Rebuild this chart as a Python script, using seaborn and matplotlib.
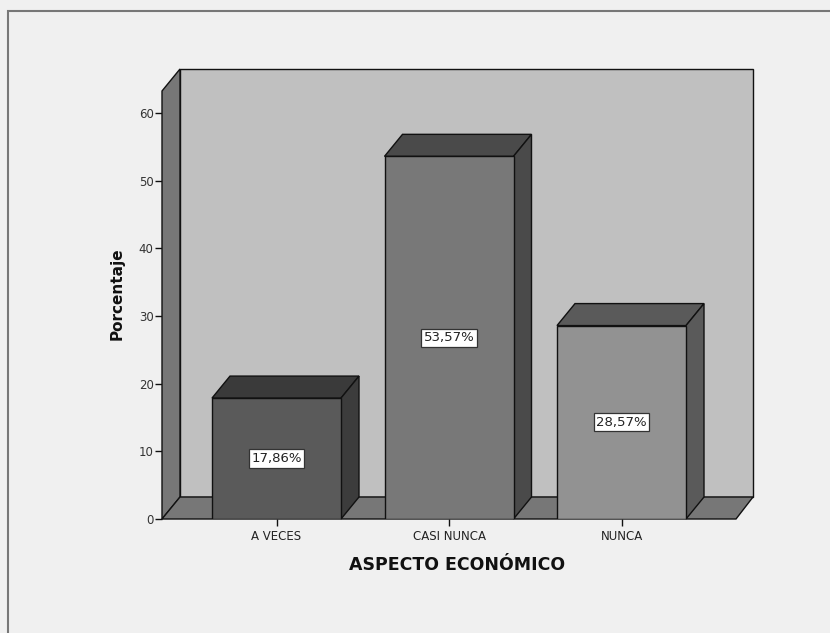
import numpy as np
import pandas as pd
import matplotlib
matplotlib.use('Agg')
import matplotlib.pyplot as plt
from matplotlib.patches import Polygon, Rectangle
import seaborn as sns

# Datos del gráfico
categorias = ['A VECES', 'CASI NUNCA', 'NUNCA']
porcentajes = [17.86, 53.57, 28.57]
etiquetas = ['17,86%', '53,57%', '28,57%']
ticks_y = [0, 10, 20, 30, 40, 50, 60]

colores_frente = ['#5a5a5a', '#787878', '#929292']
colores_tapa = ['#3a3a3a', '#4a4a4a', '#5a5a5a']
colores_lado = ['#3c3c3c', '#4a4a4a', '#5a5a5a']

sns.set_style('white')
plt.rcParams['font.family'] = ['DejaVu Sans']

df = pd.DataFrame({'Categoria': categorias, 'Porcentaje': porcentajes})

fig = plt.figure(figsize=(8.3, 6.33), dpi=100)
fig.patch.set_facecolor('#f0f0f0')

W, H = 830, 633
# ejes en píxeles: de x=162 a 753, de y=519 (cero) a 69
ax = fig.add_axes([162 / W, (H - 519) / H, (753 - 162) / W, (519 - 69) / H])
ax.set_facecolor('none')

px_y = 6.77      # píxeles por unidad en y
px_x = 172.5     # píxeles por categoría
x_ini = (162 - 276.5) / px_x
x_fin = (753 - 276.5) / px_x
y_fin = (519 - 69) / px_y
dx = 18 / px_x
dy = 22 / px_y
x_frente_der = (736 - 276.5) / px_x

sns.barplot(data=df, x='Categoria', y='Porcentaje', hue='Categoria',
            palette=colores_frente, width=129 / px_x, edgecolor='#111111',
            linewidth=1.0, saturation=1, legend=False, ax=ax, zorder=2)

ax.set_xlim(x_ini, x_fin)
ax.set_ylim(0, y_fin)

borde = dict(edgecolor='#111111', linewidth=1.0, clip_on=False)
# pared del fondo
ax.add_patch(Polygon([(x_ini + dx, dy), (x_fin, dy), (x_fin, y_fin), (x_ini + dx, y_fin)],
                     facecolor='#c0c0c0', zorder=0.5, **borde))
# pared izquierda
ax.add_patch(Polygon([(x_ini, 0), (x_ini + dx, dy), (x_ini + dx, y_fin), (x_ini, y_fin - dy)],
                     facecolor='#777777', zorder=0.6, **borde))
# piso
ax.add_patch(Polygon([(x_ini, 0), (x_frente_der, 0), (x_fin, dy), (x_ini + dx, dy)],
                     facecolor='#777777', zorder=0.6, **borde))

barras = [p for c in ax.containers for p in c]
for i, barra in enumerate(barras):
    x0 = barra.get_x()
    x1 = x0 + barra.get_width()
    h = barra.get_height()
    ax.add_patch(Polygon([(x0, h), (x1, h), (x1 + dx, h + dy), (x0 + dx, h + dy)],
                         facecolor=colores_tapa[i], zorder=1.9, **borde))
    ax.add_patch(Polygon([(x1, 0), (x1 + dx, dy), (x1 + dx, h + dy), (x1, h)],
                         facecolor=colores_lado[i], zorder=1.9, **borde))
    ax.text(x0 + barra.get_width() / 2, h / 2, etiquetas[i], ha='center', va='center',
            fontsize=9.5, color='#222222', zorder=5,
            bbox=dict(boxstyle='square,pad=0.2', facecolor='white', edgecolor='#333333', linewidth=0.9))

for s in ax.spines.values():
    s.set_visible(False)

ax.set_yticks(ticks_y)
ax.set_yticklabels([str(t) for t in ticks_y], fontsize=8.5, color='#333333')
ax.tick_params(axis='y', direction='out', length=5, width=1, color='#111111', pad=1, left=True)
ax.tick_params(axis='x', direction='out', length=5, width=1, color='#111111', pad=3, bottom=True,
               labelsize=8.5, labelcolor='#222222')

ax.set_xlabel('ASPECTO ECONÓMICO', fontsize=12.5, fontweight='bold', color='#111111', labelpad=9)
ax.set_ylabel('Porcentaje', fontsize=11, fontweight='bold', color='#111111', labelpad=10)

# marco exterior
fig.add_artist(Rectangle((8 / W, -0.1), 1.2, (H - 11) / H + 0.1, transform=fig.transFigure,
                         facecolor='none', edgecolor='#777777', linewidth=1.5))

fig.savefig('out.png', dpi=100, facecolor=fig.get_facecolor())
